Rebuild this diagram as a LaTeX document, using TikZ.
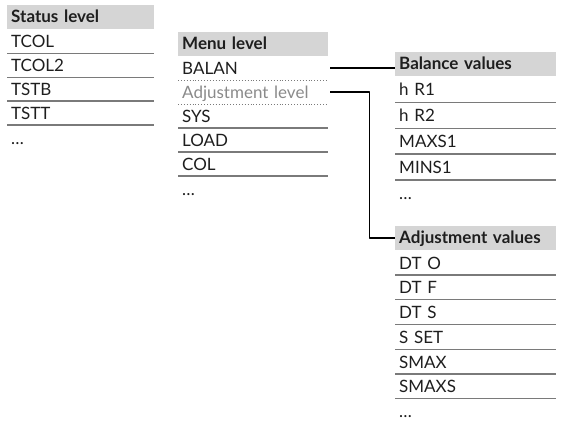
\documentclass[tikz,border=0pt]{standalone}
\usepackage{fontspec}
\setmainfont{Lato}
\usetikzlibrary{positioning}
\definecolor{headgray}{HTML}{D5D5D5}
\definecolor{linegray}{HTML}{7A7A7A}
\definecolor{textgray}{HTML}{8A8A8A}
\definecolor{ink}{HTML}{1E1E1E}
\tikzset{
  every picture/.style={line join=round},
  head/.style={fill=headgray, font=\fontsize{17}{20}\selectfont\bfseries, text=ink, anchor=north west,
    inner xsep=4pt, inner ysep=0pt, minimum height=24pt, text height=13pt, text depth=3pt, align=left},
  item/.style={font=\fontsize{17}{20}\selectfont, text=ink, inner xsep=4pt, inner ysep=0pt,
    text height=15pt, text depth=2pt, align=left},
  rowline/.style={draw=linegray, line width=1.3pt},
  dotline/.style={draw=linegray, line width=0.9pt, dotted},
  link/.style={draw=black, line width=1.8pt},
}

\begin{document}
\begin{tikzpicture}[x=1pt,y=-1pt]
\useasboundingbox (0,0) rectangle (561,428);
% status level
\node[head, text width=139pt, alias=status0] (status) at (7,5) {Status level};
\foreach \t [count=\i, remember=\i as \j (initially 0)] in {TCOL,TCOL2,TSTB,TSTT}{
  \node[item, text width=139pt, minimum height=23.5pt, below=0pt of status\j] (status\i) {\t};
  \draw[rowline] (status\i.south west) -- (status\i.south east);
}
\node[item, text width=139pt, minimum height=23.5pt, below=1pt of status4] (statusmore) {…};

% menu level
\node[head, text width=142pt, alias=menu0] (menu) at (178,32) {Menu level};
\foreach \t/\ls/\tc [count=\i, remember=\i as \j (initially 0)] in
  {BALAN/dotline/ink, Adjustment level/dotline/textgray, SYS/rowline/ink, LOAD/rowline/ink, COL/rowline/ink}{
  \node[item, text=\tc, text width=142pt, minimum height=23.5pt, below=0pt of menu\j] (menu\i) {\t};
  \draw[\ls] (menu\i.south west) -- (menu\i.south east);
}
\node[item, text width=142pt, minimum height=23.5pt, below=1pt of menu5] (menumore) {…};

% balance values
\node[head, text width=153pt, alias=balance0] (balance) at (395,52) {Balance values};
\foreach \t [count=\i, remember=\i as \j (initially 0)] in {h R1,h R2,MAXS1,MINS1}{
  \node[item, text width=153pt, minimum height=25.5pt, below=0pt of balance\j] (balance\i) {\t};
  \draw[rowline] (balance\i.south west) -- (balance\i.south east);
}
\node[item, text width=153pt, minimum height=25.5pt, below=0pt of balance4] (balancemore) {…};

% adjustment values
\node[head, text width=153pt, alias=adjust0] (adjust) at (395,226) {Adjustment values};
\foreach \t [count=\i, remember=\i as \j (initially 0)] in {DT O,DT F,DT S,S SET,SMAX,SMAXS}{
  \node[item, text width=153pt, minimum height=24.3pt, below=0pt of adjust\j] (adjust\i) {\t};
  \draw[rowline] (adjust\i.south west) -- (adjust\i.south east);
}
\node[item, text width=153pt, minimum height=24.3pt, below=0pt of adjust6] (adjustmore) {…};

% links
\draw[link, shorten <=2pt] (menu1.east) -- (menu1.east -| balance.west);
\draw[link, shorten <=2pt] (menu2.east) -- ++(41,0) |- (adjust.west);
\end{tikzpicture}
\end{document}
